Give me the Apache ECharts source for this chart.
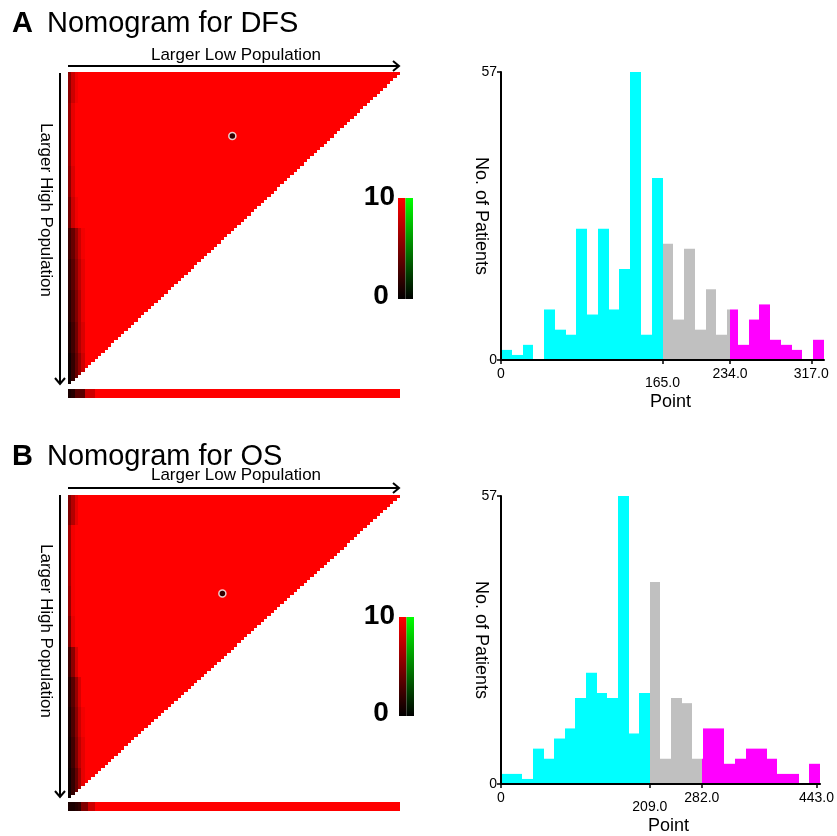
<!DOCTYPE html>
<html><head><meta charset="utf-8">
<script src="https://cdn.jsdelivr.net/npm/echarts@6/dist/echarts.min.js"></script>
<style>html,body{margin:0;padding:0;background:#fff}#c{width:837px;height:836px}</style>
</head><body><div id="c"></div>
<script>
const FONT = '"Liberation Sans", Arial, Helvetica, sans-serif';

// ---------- Histogram data (No. of patients per bin) ----------
const countsA = [2,1,3,0,10,6,5,26,9,26,10,18,57,5,36,23,8,22,6,14,5,10,3,8,11,4,3,2,0,4];
const countsB = [2,2,1,7,5,9,11,17,22,18,17,57,10,18,40,5,17,16,5,11,11,4,5,7,7,5,2,2,0,4];
const binWidthA = 11;
const binWidthB = 14.93;
const cutsA = [165, 234];
const cutsB = [209, 282];
const ticksA = [0, 165, 234, 317];
const ticksB = [0, 209, 282, 443];
const xMaxA = 330;
const xMaxB = 448;
const yMaxCount = 57;
const groupColors = ['#00ffff', '#c0c0c0', '#ff00ff'];

// ---------- Nomogram heatmap data ----------
const gridN = 100;          // cells per side of the triangular map
const fullValue = 10;       // value of all cells not listed below
// values of the left-most columns, per band of 10 rows (top to bottom)
const edgeBandsA = [
  [5.5, 8, 9.5],
  [6, 9],
  [6, 9],
  [5.5, 8.5],
  [4.5, 8, 9.5],
  [2.5, 4, 6, 8, 9.5],
  [2, 3.5, 5.5, 7.5, 9],
  [1.5, 3, 5, 7, 9],
  [1, 2.5, 4.5, 7, 8.5],
  [0.5, 2, 4, 6, 8]
];
const edgeBandsB = [
  [5, 7, 9],
  [6.5, 9.5],
  [6.5, 9.5],
  [6, 9.5],
  [5, 9],
  [2.5, 5.5, 8.5],
  [1.5, 3.5, 6, 8.5],
  [1, 3, 5.5, 8, 9.5],
  [0.8, 2.5, 5, 7.5, 9],
  [0.5, 2, 4, 6.5, 9]
];
const stripA = [1, 1.5, 3.5, 3.5, 3.5, 8, 8, 8];
const stripB = [1, 1, 1.5, 2, 5, 5, 8, 8];
const markerA = [49, 20];
const markerB = [46, 32];

// ---------- build series data ----------
function triangleData(bands) {
  const out = [];
  for (let j = 0; j < gridN; j++) {
    const band = bands[Math.floor(j * bands.length / gridN)];
    for (let i = 0; i < gridN - j; i++) {
      out.push([i, j, i < band.length ? band[i] : fullValue]);
    }
  }
  return out;
}
function stripData(strip) {
  const out = [];
  for (let i = 0; i < gridN; i++) out.push([i, 0, i < strip.length ? strip[i] : fullValue]);
  return out;
}
function histData(counts, w) {
  return counts.map((c, k) => [k * w, (k + 1) * w, c]);
}
function cellRender(params, api) {
  const c = api.coord([api.value(0), api.value(1)]);
  const s = api.size([1, 1]);
  const x0 = Math.round(c[0] - s[0] / 2), x1 = Math.round(c[0] + s[0] / 2);
  const y0 = Math.round(c[1] - s[1] / 2), y1 = Math.round(c[1] + s[1] / 2);
  return { type: 'rect', shape: { x: x0, y: y0, width: x1 - x0, height: y1 - y0 },
           style: { fill: api.visual('color') } };
}
function histRender(cuts) {
  return function (params, api) {
    const x0 = api.value(0), x1 = api.value(1), h = api.value(2);
    if (!h) return;
    const edges = [x0].concat(cuts.filter(c => c > x0 && c < x1), [x1]);
    const children = [];
    for (let s = 0; s < edges.length - 1; s++) {
      const a = edges[s], b = edges[s + 1];
      if (b - a < 0.05) continue;
      const mid = (a + b) / 2;
      let g = 0;
      cuts.forEach(c => { if (mid > c) g++; });
      const p0 = api.coord([a, h]);
      const p1 = api.coord([b, 0]);
      const xa = Math.round(p0[0]), xb = Math.round(p1[0]);
      children.push({
        type: 'rect',
        shape: { x: xa, y: p0[1], width: xb - xa, height: p1[1] - p0[1] },
        style: { fill: groupColors[g] }
      });
    }
    return { type: 'group', children };
  };
}

const idx = Array.from({ length: gridN }, (_, i) => String(i));
function catAxis(gridIndex, inverse) {
  return { type: 'category', gridIndex, data: idx, inverse: !!inverse, show: false,
           boundaryGap: true };
}
function histX(gridIndex, max, ticks, cuts) {
  return {
    type: 'value', gridIndex, min: 0, max, z: 5,
    name: 'Point', nameLocation: 'middle', nameGap: 33,
    nameTextStyle: { color: '#000', fontSize: 18, fontFamily: FONT, padding: [0, 0, 0, 16] },
    axisLine: { show: true, lineStyle: { color: '#000', width: 2 } },
    axisTick: { show: true, length: 4, customValues: ticks, lineStyle: { color: '#000', width: 1.5 } },
    splitLine: { show: false },
    axisLabel: {
      customValues: ticks, margin: 7, color: '#000', fontSize: 14, fontFamily: FONT,
      formatter: v => {
        const t = v === 0 ? '0' : v.toFixed(1);
        return v === cuts[0] ? '{lo|' + t + '}' : '{hi|' + t + '}';
      },
      rich: {
        lo: { lineHeight: 32, fontSize: 14, fontFamily: FONT, color: '#000' },
        hi: { lineHeight: 14, fontSize: 14, fontFamily: FONT, color: '#000' }
      }
    }
  };
}
function histY(gridIndex) {
  return {
    type: 'value', gridIndex, min: 0, max: yMaxCount, interval: yMaxCount, z: 5,
    name: 'No. of Patients', nameLocation: 'middle', nameRotate: -90, nameGap: 11,
    nameMoveOverlap: false,
    nameTextStyle: { color: '#000', fontSize: 18, fontFamily: FONT },
    axisLine: { show: true, lineStyle: { color: '#000', width: 2 } },
    axisTick: { show: true, length: 4, lineStyle: { color: '#000', width: 1.5 } },
    splitLine: { show: false },
    axisLabel: { margin: 4, color: '#000', fontSize: 14, fontFamily: FONT }
  };
}

function arrowGraphics(yTop, yBottom, textY, vTextY) {
  return [
    { type: 'line', shape: { x1: 68, y1: yTop, x2: 399, y2: yTop }, style: { stroke: '#000', lineWidth: 2 } },
    { type: 'polyline', shape: { points: [[393, yTop - 5], [399, yTop], [393, yTop + 5]] }, style: { stroke: '#000', lineWidth: 2, fill: null } },
    { type: 'line', shape: { x1: 60, y1: yTop + 7, x2: 60, y2: yBottom }, style: { stroke: '#000', lineWidth: 2 } },
    { type: 'polyline', shape: { points: [[55, yBottom - 6], [60, yBottom], [65, yBottom - 6]] }, style: { stroke: '#000', lineWidth: 2, fill: null } },
    { type: 'text', x: 236, y: textY, style: { text: 'Larger Low Population', font: '17px ' + FONT, fill: '#000', align: 'center', verticalAlign: 'middle' } },
    { type: 'text', x: 46, y: vTextY, rotation: -Math.PI / 2, style: { text: 'Larger High Population', font: '17px ' + FONT, fill: '#000', align: 'center', verticalAlign: 'middle' } }
  ];
}
function colorbar(x, y, h) {
  const grad = c => ({ type: 'linear', x: 0, y: 0, x2: 0, y2: 1, colorStops: [{ offset: 0, color: c }, { offset: 1, color: '#000000' }] });
  return [
    { type: 'rect', shape: { x: x, y: y, width: 7.5, height: h }, style: { fill: grad('#ff0000') } },
    { type: 'rect', shape: { x: x + 7.5, y: y, width: 7.5, height: h }, style: { fill: grad('#00ff00') } },
    { type: 'text', x: 395, y: y - 1, style: { text: String(fullValue), font: 'bold 28px ' + FONT, fill: '#000', align: 'right', verticalAlign: 'middle' } },
    { type: 'text', x: 381, y: y + h - 3, style: { text: '0', font: 'bold 28px ' + FONT, fill: '#000', align: 'center', verticalAlign: 'middle' } }
  ];
}
function titleGraphics(y, letter, title) {
  return [
    { type: 'text', x: 12, y: y, style: { text: letter, font: 'bold 29px ' + FONT, fill: '#000', verticalAlign: 'middle' } },
    { type: 'text', x: 47, y: y, style: { text: title, font: '29px ' + FONT, fill: '#000', verticalAlign: 'middle' } }
  ];
}

function cellSeries(xi, yi, data) {
  return { type: 'custom', xAxisIndex: xi, yAxisIndex: yi, data, renderItem: cellRender,
           encode: { x: 0, y: 1 }, progressive: 0, silent: true, z: 1 };
}

const chart = echarts.init(document.getElementById('c'), null, { renderer: 'canvas' });
chart.setOption({
  animation: false,
  backgroundColor: '#fff',
  grid: [
    { left: 68, top: 72, width: 332, height: 312 },
    { left: 68, top: 389, width: 332, height: 9 },
    { left: 501, top: 72, width: 323, height: 288 },
    { left: 68, top: 495, width: 332, height: 303 },
    { left: 68, top: 802, width: 332, height: 9 },
    { left: 501, top: 496, width: 324, height: 288 }
  ],
  xAxis: [
    catAxis(0), catAxis(1), histX(2, xMaxA, ticksA, cutsA),
    catAxis(3), catAxis(4), histX(5, xMaxB, ticksB, cutsB)
  ],
  yAxis: [
    catAxis(0, true), { type: 'category', gridIndex: 1, data: ['0'], show: false }, histY(2),
    catAxis(3, true), { type: 'category', gridIndex: 4, data: ['0'], show: false }, histY(5)
  ],
  visualMap: [{
    show: false, type: 'continuous', min: 0, max: fullValue, dimension: 2,
    seriesIndex: [0, 1, 3, 4], inRange: { color: ['#000000', '#ff0000'] }
  }],
  series: [
    cellSeries(0, 0, triangleData(edgeBandsA)),
    cellSeries(1, 1, stripData(stripA)),
    { type: 'custom', xAxisIndex: 2, yAxisIndex: 2, renderItem: histRender(cutsA), data: histData(countsA, binWidthA), encode: { x: [0, 1], y: 2 }, z: 1 },
    cellSeries(3, 3, triangleData(edgeBandsB)),
    cellSeries(4, 4, stripData(stripB)),
    { type: 'custom', xAxisIndex: 5, yAxisIndex: 5, renderItem: histRender(cutsB), data: histData(countsB, binWidthB), encode: { x: [0, 1], y: 2 }, z: 1 },
    { type: 'scatter', xAxisIndex: 0, yAxisIndex: 0, data: [markerA], symbolSize: 7, z: 10,
      itemStyle: { color: '#000', borderColor: '#fff', borderWidth: 1.5 } },
    { type: 'scatter', xAxisIndex: 3, yAxisIndex: 3, data: [markerB], symbolSize: 7, z: 10,
      itemStyle: { color: '#000', borderColor: '#fff', borderWidth: 1.5 } }
  ],
  graphic: [].concat(
    titleGraphics(24, 'A', 'Nomogram for DFS'),
    arrowGraphics(66, 384, 55, 210),
    colorbar(398, 198, 101),
    titleGraphics(457, 'B', 'Nomogram for OS'),
    arrowGraphics(488, 797, 475, 631),
    colorbar(399, 617, 99)
  )
});
</script></body></html>
